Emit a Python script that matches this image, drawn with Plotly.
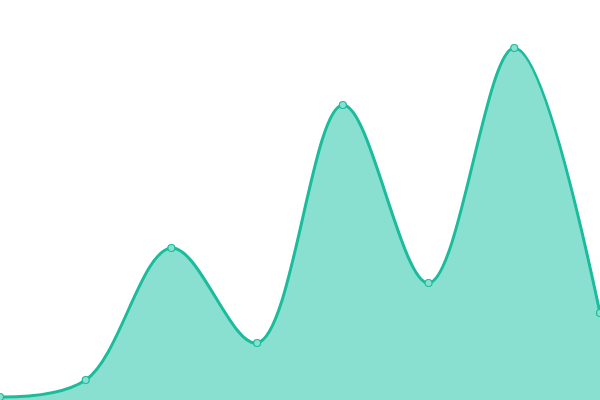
import plotly.graph_objects as go

# readings (index along x, height above the baseline)
steps = [0, 1, 2, 3, 4, 5, 6, 7]
values = [3, 20, 152, 57, 295, 117, 352, 87]

line_color = "#1abc9c"
fill_color = "rgba(138, 224, 208, 1)"

area = go.Scatter(
    x=steps,
    y=values,
    mode="lines+markers",
    line=dict(color=line_color, width=3, shape="spline", smoothing=1.0),
    marker=dict(size=7, color="#8ae0d0", line=dict(color=line_color, width=1.2)),
    fill="tozeroy",
    fillcolor=fill_color,
    hoverinfo="skip",
    cliponaxis=False,
)

fig = go.Figure([area])
fig.update_layout(
    width=600,
    height=400,
    margin=dict(l=0, r=0, t=0, b=0),
    paper_bgcolor="white",
    plot_bgcolor="white",
    showlegend=False,
)
fig.update_xaxes(visible=False, range=[0, 7], fixedrange=True)
fig.update_yaxes(visible=False, range=[0, 400], fixedrange=True)

# the page body has an 8px margin by default, drop it so the plot sits at 0,0
fig.write_html(
    "out.html",
    config={"displayModeBar": False},
    post_script="document.body.style.margin='0px';document.body.style.overflow='hidden';",
)
